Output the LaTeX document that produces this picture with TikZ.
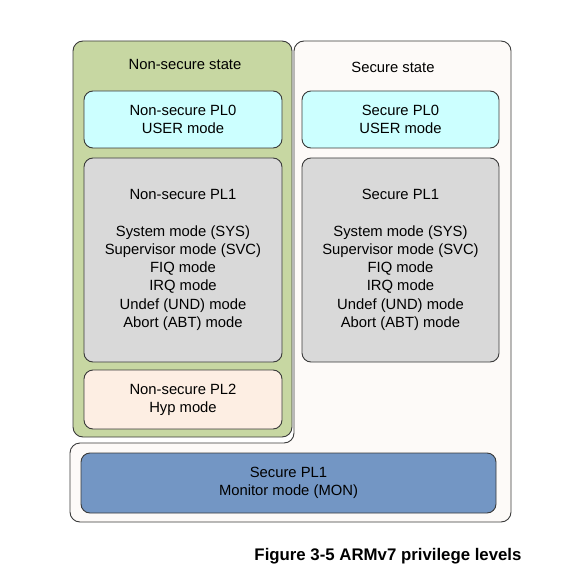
\documentclass[tikz,border=0pt]{standalone}
\usepackage{fontspec}
\setmainfont{Liberation Sans}
\definecolor{edge}{HTML}{3A3A3A}
\definecolor{nsgreen}{HTML}{C7D7A2}
\definecolor{secfill}{HTML}{FDFAF8}
\definecolor{pl0cyan}{HTML}{CCFFFF}
\definecolor{pl1gray}{HTML}{D9D9D9}
\definecolor{pl2peach}{HTML}{FDEEE3}
\definecolor{monblue}{HTML}{7396C4}
\begin{document}
\begin{tikzpicture}[x=1pt,y=-1pt,
  outline/.style={draw=edge, line width=0.9pt, rounded corners=10pt},
  modebox/.style={outline, rounded corners=9pt, align=center, inner sep=0pt,
     font=\fontsize{14.8}{18.2}\selectfont},
  titletext/.style={font=\fontsize{14.8}{18.2}\selectfont}]
\useasboundingbox (0,0) rectangle (573,577);
% Secure state (L-shaped region)
\draw[outline, fill=secfill] (294,41) -- (511,41) -- (511,522) -- (70,522) -- (70,443) -- (294,443) -- cycle;
% Non-secure state
\draw[outline, fill=nsgreen] (73,41) rectangle (292,437);
\node[titletext] (nstitle) at (185,64) {Non-secure state};
\node[titletext] (stitle) at (393,67) {Secure state};
% Non-secure modes
\node[modebox, fill=pl0cyan, minimum width=198pt, minimum height=57pt] (nspl0) at (183,119.5) {Non-secure PL0\\USER mode};
\node[modebox, fill=pl1gray, minimum width=198pt, minimum height=204pt] (nspl1) at (183,260) {Non-secure PL1\\[18.2pt]System mode (SYS)\\Supervisor mode (SVC)\\FIQ mode\\IRQ mode\\Undef (UND) mode\\Abort (ABT) mode};
\node[modebox, fill=pl2peach, minimum width=198pt, minimum height=59pt] (nspl2) at (183,399.5) {Non-secure PL2\\Hyp mode};
% Secure modes
\node[modebox, fill=pl0cyan, minimum width=197pt, minimum height=57pt] (spl0) at (400.5,119.5) {Secure PL0\\USER mode};
\node[modebox, fill=pl1gray, minimum width=197pt, minimum height=204pt] (spl1) at (400.5,260) {Secure PL1\\[18.2pt]System mode (SYS)\\Supervisor mode (SVC)\\FIQ mode\\IRQ mode\\Undef (UND) mode\\Abort (ABT) mode};
\node[modebox, fill=monblue, minimum width=415pt, minimum height=60pt] (mon) at (288.5,483) {Secure PL1\\Monitor mode (MON)};
% Caption
\node[font=\fontsize{16.8}{20}\selectfont\bfseries] (caption) at (388,556) {Figure 3-5 ARMv7 privilege levels};
\end{tikzpicture}
\end{document}
